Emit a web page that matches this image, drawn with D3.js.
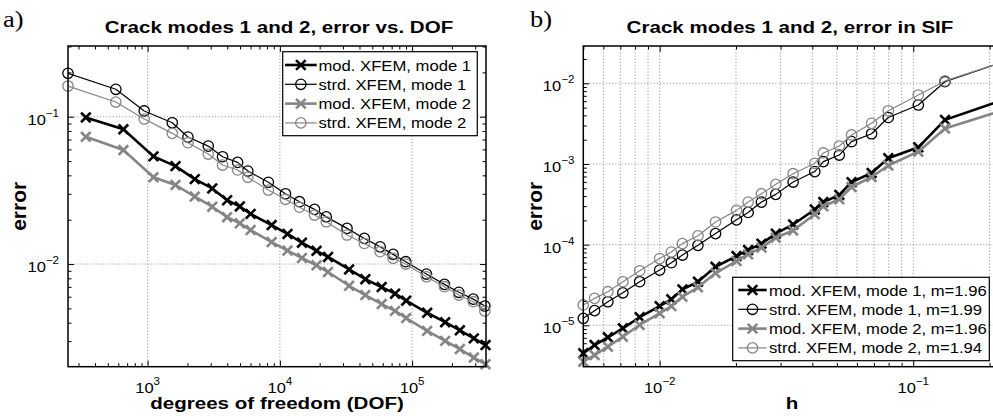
<!DOCTYPE html>
<html>
<head>
<meta charset="utf-8">
<script src="https://cdn.jsdelivr.net/npm/d3@7"></script>
<style>
  html, body { margin: 0; padding: 0; background: #fff; }
  svg { display: block; }
  text { font-family: "Liberation Sans", Arial, Helvetica, sans-serif; fill: #000; }
</style>
</head>
<body>
<svg id="fig" width="993" height="416"></svg>
<script>
// ---------------- data: panel a) error vs. degrees of freedom ----------------
const dofStrd = [250, 575, 943, 1536, 2018, 2874, 3686, 4790, 5724, 8185, 11020, 14070,
                 18280, 22430, 32200, 43520, 57280, 71800, 89500, 128400, 175700, 225500, 289900, 354700];
const dofMod  = [341, 656, 1107, 1625, 2271, 3083, 3992, 4981, 6010, 8670, 11420, 14690,
                 18930, 23130, 33400, 44300, 58870, 74350, 90200, 130000, 177800, 229500, 293000, 359000];
const errModMode1  = [0.0988, 0.0821, 0.0538, 0.0462, 0.0377, 0.0326, 0.0271, 0.0246, 0.0219, 0.0184, 0.0160, 0.01396,
                      0.01230, 0.01117, 0.00919, 0.00789, 0.00698, 0.00629, 0.00564, 0.00467, 0.00403, 0.00355, 0.00313, 0.00282];
const errStrdMode1 = [0.197, 0.1535, 0.1094, 0.0910, 0.0728, 0.0632, 0.0535, 0.0490, 0.0428, 0.0359, 0.0300, 0.0265,
                      0.0235, 0.0209, 0.01746, 0.01493, 0.01309, 0.01163, 0.01037, 0.00855, 0.00728, 0.00643, 0.00578, 0.00519];
const errModMode2  = [0.0731, 0.0594, 0.0388, 0.0344, 0.0287, 0.0245, 0.0208, 0.0189, 0.0170, 0.0141, 0.01235, 0.01099,
                      0.00980, 0.00883, 0.00712, 0.00616, 0.00535, 0.00481, 0.00430, 0.00352, 0.00301, 0.00265, 0.00232, 0.00209];
const errStrdMode2 = [0.1616, 0.1258, 0.0965, 0.0771, 0.0666, 0.0558, 0.0470, 0.0435, 0.0388, 0.0318, 0.0275, 0.0243,
                      0.0215, 0.01937, 0.01574, 0.0138, 0.01213, 0.01094, 0.0100, 0.0082, 0.00702, 0.00616, 0.00555, 0.0048];
const legendA = ["mod. XFEM, mode 1", "strd. XFEM, mode 1", "mod. XFEM, mode 2", "strd. XFEM, mode 2"];

// ---------------- data: panel b) error in SIF vs. element size h ----------------
const hVals = [0.005, 0.00554, 0.00625, 0.00716, 0.00834, 0.0100, 0.01112, 0.01230, 0.01416, 0.01661, 0.0201, 0.02233,
               0.02520, 0.0287, 0.0336, 0.0409, 0.0442, 0.0511, 0.0571, 0.0685, 0.0797, 0.1047, 0.1334, 0.25];
const sifModMode1  = [4.50e-6, 5.70e-6, 7.10e-6, 9.18e-6, 1.26e-5, 1.73e-5, 2.10e-5, 2.79e-5, 3.47e-5, 5.32e-5, 7.22e-5, 8.57e-5,
                      1.03e-4, 1.37e-4, 1.78e-4, 2.73e-4, 3.37e-4, 4.13e-4, 5.96e-4, 7.74e-4, 1.18e-3, 1.61e-3, 3.52e-3, 6.96e-3];
const sifStrdMode1 = [1.22e-5, 1.52e-5, 1.96e-5, 2.53e-5, 3.47e-5, 4.84e-5, 5.97e-5, 7.43e-5, 9.8e-5, 1.37e-4, 2.03e-4, 2.51e-4,
                      3.37e-4, 4.20e-4, 5.97e-4, 8.05e-4, 1.07e-3, 1.29e-3, 1.89e-3, 2.37e-3, 3.77e-3, 5.38e-3, 1.047e-2, 2.05e-2];
const sifModMode2  = [3.54e-6, 4.28e-6, 5.43e-6, 7.23e-6, 1.01e-5, 1.41e-5, 1.73e-5, 2.26e-5, 2.96e-5, 4.45e-5, 6.27e-5, 7.59e-5,
                      9.18e-5, 1.22e-4, 1.50e-4, 2.38e-4, 2.99e-4, 3.65e-4, 5.18e-4, 6.89e-4, 9.57e-4, 1.42e-3, 2.76e-3, 5.14e-3];
const sifStrdMode2 = [1.79e-5, 2.16e-5, 2.61e-5, 3.47e-5, 4.75e-5, 6.72e-5, 8.10e-5, 1.03e-4, 1.29e-4, 1.91e-4, 2.66e-4, 3.37e-4,
                      4.28e-4, 5.59e-4, 7.58e-4, 1.02e-3, 1.37e-3, 1.67e-3, 2.29e-3, 3.19e-3, 4.57e-3, 7.16e-3, 1.07e-2, 2.05e-2];
const legendB = ["mod. XFEM, mode 1, m=1.96", "strd. XFEM, mode 1, m=1.99",
                 "mod. XFEM, mode 2, m=1.96", "strd. XFEM, mode 2, m=1.94"];

// ---------------- styling ----------------
const BLACK = "#000";
const GRAY = "#858585";
const svg = d3.select("#fig");

const styleMod1  = { color: BLACK, lw: 2.6, marker: "x" };
const styleStrd1 = { color: BLACK, lw: 1.2, marker: "o" };
const styleMod2  = { color: GRAY,  lw: 2.6, marker: "x" };
const styleStrd2 = { color: GRAY,  lw: 1.2, marker: "o" };

// text helper: anchor at (x, y), optional horizontal stretch and rotation
function label(g, x, y, str, opt) {
  const o = Object.assign({ size: 15, weight: "normal", anchor: "middle", sx: 1, rot: 0, family: null }, opt || {});
  const t = g.append("text")
    .attr("transform", `translate(${x},${y}) rotate(${o.rot}) scale(${o.sx},1)`)
    .attr("text-anchor", o.anchor)
    .style("font-size", o.size + "px")
    .style("font-weight", o.weight)
    .text(str);
  if (o.family) t.style("font-family", o.family);
  return t;
}

// "10^e" tick label with a raised exponent
function powLabel(g, x, y, exp, anchor) {
  const t = g.append("text")
    .attr("transform", `translate(${x},${y}) scale(1.1,1)`)
    .attr("text-anchor", anchor)
    .style("font-size", "15px");
  t.append("tspan").text("10");
  t.append("tspan").attr("dy", -8).style("font-size", "10.5px")
    .text(exp < 0 ? "\u2212" + (-exp) : String(exp));
}

function marker(g, px, py, s) {
  if (s.marker === "o") {
    g.append("circle").attr("cx", px).attr("cy", py).attr("r", 5.2)
      .attr("fill", "none").attr("stroke", s.color).attr("stroke-width", 1.3);
  } else {
    const r = 4.8;
    g.append("path")
      .attr("d", `M${px - r},${py - r}L${px + r},${py + r}M${px - r},${py + r}L${px + r},${py - r}`)
      .attr("fill", "none").attr("stroke", s.color).attr("stroke-width", 2.6);
  }
}

const isMajor = v => Math.abs(Math.log10(v) - Math.round(Math.log10(v))) < 1e-9;

function panel(cfg, idx) {
  const b = cfg.box;
  const x = d3.scaleLog().domain(cfg.xDomain).range([b.x0, b.x1]);
  const y = d3.scaleLog().domain(cfg.yDomain).range([b.y1, b.y0]);
  const g = svg.append("g");

  const xt = x.ticks(), yt = y.ticks();
  const xMaj = xt.filter(isMajor), xMin = xt.filter(v => !isMajor(v));
  const yMaj = yt.filter(isMajor), yMin = yt.filter(v => !isMajor(v));

  // dotted grid
  const grid = g.append("g").attr("stroke", "#8a8a8a").attr("stroke-width", 1)
    .attr("stroke-dasharray", "1,2.2");
  const gx = cfg.xMinorGrid ? xt : xMaj;
  gx.forEach(v => grid.append("line").attr("x1", x(v)).attr("x2", x(v)).attr("y1", b.y0).attr("y2", b.y1));
  yMaj.forEach(v => grid.append("line").attr("x1", b.x0).attr("x2", b.x1).attr("y1", y(v)).attr("y2", y(v)));

  // inward ticks on all four sides
  const tickSet = (axisFn, scale, vals, len, tr) => {
    const a = g.append("g").attr("transform", tr)
      .call(axisFn(scale).tickValues(vals).tickSize(-len).tickFormat(""));
    a.select(".domain").remove();
    a.selectAll(".tick line").attr("stroke", BLACK).attr("stroke-width", 1);
  };
  [[xMaj, 6], [xMin, 3.5]].forEach(([vals, len]) => {
    tickSet(d3.axisBottom, x, vals, len, `translate(0,${b.y1})`);
    tickSet(d3.axisTop, x, vals, len, `translate(0,${b.y0})`);
  });
  [[yMaj, 6], [yMin, 3.5]].forEach(([vals, len]) => {
    tickSet(d3.axisLeft, y, vals, len, `translate(${b.x0},0)`);
    tickSet(d3.axisRight, y, vals, len, `translate(${b.x1},0)`);
  });

  // data lines (clipped to the axes), markers on top
  const clipId = "clip" + idx;
  svg.append("clipPath").attr("id", clipId).append("rect")
    .attr("x", b.x0).attr("y", b.y0).attr("width", b.x1 - b.x0).attr("height", b.y1 - b.y0);
  const line = d3.line().x(d => x(d[0])).y(d => y(d[1]));
  cfg.series.forEach(s => {
    const pts = s.x.map((v, i) => [v, s.y[i]]);
    g.append("path").attr("clip-path", `url(#${clipId})`).datum(pts).attr("d", line)
      .attr("fill", "none").attr("stroke", s.color).attr("stroke-width", s.lw)
      .attr("stroke-linejoin", "round");
    const mg = g.append("g");
    pts.forEach(p => {
      const px = x(p[0]), py = y(p[1]);
      if (px >= b.x0 - 1 && px <= b.x1 + 1 && py >= b.y0 - 1 && py <= b.y1 + 1) marker(mg, px, py, s);
    });
  });

  // axes box
  g.append("rect").attr("x", b.x0).attr("y", b.y0).attr("width", b.x1 - b.x0).attr("height", b.y1 - b.y0)
    .attr("fill", "none").attr("stroke", BLACK).attr("stroke-width", 1.5);

  // tick labels
  xMaj.forEach(v => powLabel(g, x(v), b.y1 + 26.5, Math.round(Math.log10(v)), "middle"));
  yMaj.forEach(v => powLabel(g, b.x0 - 9, y(v) + 8, Math.round(Math.log10(v)), "end"));

  // legend
  const L = cfg.legend;
  const lg = g.append("g");
  lg.append("rect").attr("x", L.x0).attr("y", L.y0).attr("width", L.x1 - L.x0).attr("height", L.y1 - L.y0)
    .attr("fill", "#fff").attr("stroke", BLACK).attr("stroke-width", 1.2);
  cfg.series.forEach((s, i) => {
    const ry = L.row0 + i * L.dy;
    lg.append("line").attr("x1", L.sx0).attr("x2", L.sx1).attr("y1", ry).attr("y2", ry)
      .attr("stroke", s.color).attr("stroke-width", s.lw);
    marker(lg, (L.sx0 + L.sx1) / 2, ry, s);
    label(lg, L.tx, ry + 5.5, cfg.names[i], { size: 15, anchor: "start", sx: 1.11 });
  });

  // titles and axis labels
  const cx = cfg.titleX;
  label(g, cx, 33, cfg.title, { size: 17, weight: "bold", sx: 1.21 });
  label(g, cfg.xlabelX, 408.5, cfg.xlabel, { size: 17, weight: "bold", sx: 1.21 });
  label(g, cfg.ylabelX, (b.y0 + b.y1) / 2, "error", { size: 21, weight: "bold", rot: -90 });
  label(g, cfg.letterX, 27, cfg.letter,
        { size: 23, anchor: "start", sx: 1.15, family: "'Liberation Serif','Times New Roman',serif" });
}

panel({
  box: { x0: 68, x1: 486, y0: 46, y1: 366.7 },
  xDomain: [250, 362000],
  yDomain: [0.00201, 0.302],
  xMinorGrid: false,
  series: [
    Object.assign({ x: dofMod,  y: errModMode1 },  styleMod1),
    Object.assign({ x: dofStrd, y: errStrdMode1 }, styleStrd1),
    Object.assign({ x: dofMod,  y: errModMode2 },  styleMod2),
    Object.assign({ x: dofStrd, y: errStrdMode2 }, styleStrd2)
  ],
  names: legendA,
  legend: { x0: 282.7, x1: 477.3, y0: 51.7, y1: 135.7, row0: 65, dy: 19.3, sx0: 285, sx1: 316.7, tx: 318.5 },
  title: "Crack modes 1 and 2, error vs. DOF",
  titleX: 279,
  xlabel: "degrees of freedom (DOF)",
  xlabelX: 277,
  ylabelX: 26,
  letter: "a)",
  letterX: 3
}, 0);

panel({
  box: { x0: 583.3, x1: 1005, y0: 46, y1: 366.7 },
  xDomain: [0.005, 0.23],
  yDomain: [3.07e-6, 0.029],
  xMinorGrid: true,
  series: [
    Object.assign({ x: hVals, y: sifModMode1 },  styleMod1),
    Object.assign({ x: hVals, y: sifStrdMode1 }, styleStrd1),
    Object.assign({ x: hVals, y: sifModMode2 },  styleMod2),
    Object.assign({ x: hVals, y: sifStrdMode2 }, styleStrd2)
  ],
  names: legendB,
  legend: { x0: 732.7, x1: 989.3, y0: 277.3, y1: 360.7, row0: 290, dy: 19.3, sx0: 738.3, sx1: 766.7, tx: 769 },
  title: "Crack modes 1 and 2, error in SIF",
  titleX: 790,
  xlabel: "h",
  xlabelX: 792,
  ylabelX: 541.7,
  letter: "b)",
  letterX: 530
}, 1);
</script>
</body>
</html>
